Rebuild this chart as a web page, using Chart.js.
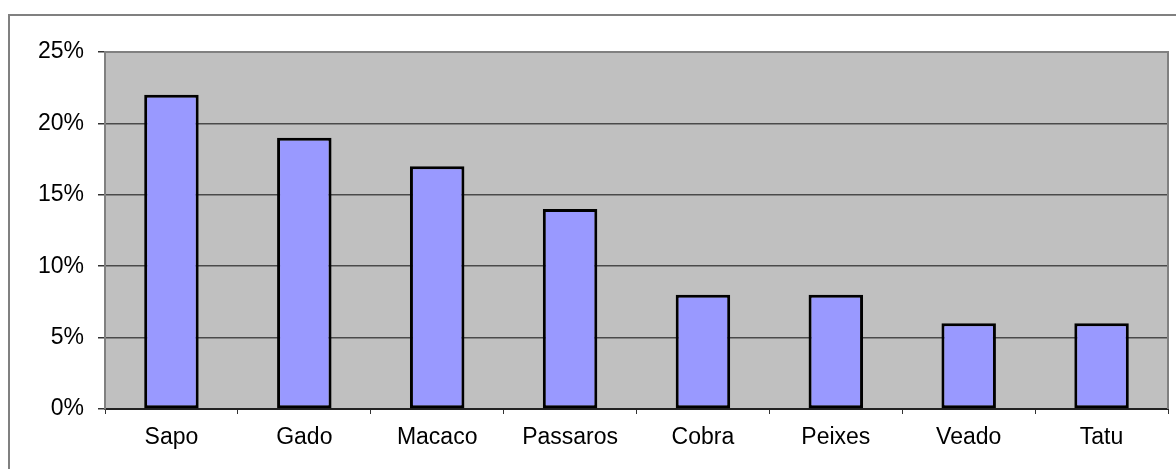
<!DOCTYPE html>
<html>
<head>
<meta charset="utf-8">
<script src="https://cdn.jsdelivr.net/npm/chart.js@4/dist/chart.umd.min.js"></script>
<style>
  html, body { margin: 0; padding: 0; background: #fff; }
  #wrap { position: relative; width: 1176px; height: 469px; overflow: hidden; }
  #frame {
    position: absolute; left: 8px; top: 14px; width: 1200px; height: 500px;
    border: 2px solid #808080; box-sizing: border-box;
  }
  canvas { position: absolute; left: 0; top: 0; }
</style>
</head>
<body>
<div id="wrap">
  <div id="frame"></div>
  <canvas id="chart" width="1176" height="469"></canvas>
</div>
<script>
const categories = ['Sapo', 'Gado', 'Macaco', 'Passaros', 'Cobra', 'Peixes', 'Veado', 'Tatu'];
const shares = [22, 19, 17, 14, 8, 8, 6, 6];

const PLOT_BG = '#c0c0c0';
const BAR_FILL = '#9999ff';
const FRAME_GRAY = '#808080';
const LABEL_FONT = { family: 'Liberation Sans, Arial, sans-serif', size: 23 };

// grey plot panel behind the bars, grey top/right edge on top of everything
const plotPanel = {
  id: 'plotPanel',
  beforeDraw(chart) {
    const { ctx, chartArea: a } = chart;
    ctx.save();
    ctx.fillStyle = PLOT_BG;
    ctx.fillRect(a.left, a.top, a.right - a.left, a.bottom - a.top);
    ctx.restore();
  },
  afterDraw(chart) {
    const { ctx, chartArea: a } = chart;
    ctx.save();
    ctx.strokeStyle = FRAME_GRAY;
    ctx.lineWidth = 2;
    ctx.beginPath();
    ctx.moveTo(a.left, a.top);
    ctx.lineTo(a.right, a.top);
    ctx.lineTo(a.right, a.bottom);
    ctx.stroke();
    ctx.restore();
  },
};

new Chart(document.getElementById('chart'), {
  type: 'bar',
  data: {
    labels: categories,
    datasets: [{
      data: shares,
      backgroundColor: BAR_FILL,
      borderColor: '#000',
      borderWidth: 3,
      borderSkipped: false,
      barPercentage: 0.41,
      categoryPercentage: 1,
    }],
  },
  options: {
    responsive: false,
    animation: false,
    layout: { padding: { left: 0, top: 52, right: 8, bottom: 0 } },
    plugins: { legend: { display: false }, tooltip: { enabled: false } },
    scales: {
      x: {
        afterFit(s) { s.height = 60; },
        grid: {
          offset: true,
          drawOnChartArea: false,
          drawTicks: true,
          tickLength: 5,
          tickColor: '#333',
        },
        border: { color: '#222', width: 2 },
        ticks: {
          color: '#000',
          padding: 10,
          font: LABEL_FONT,
        },
      },
      y: {
        min: 0,
        max: 25,
        afterFit(s) { s.width = 105; },
        grid: {
          color: '#4a4a4a',
          lineWidth: 1.5,
          tickLength: 7,
          tickColor: '#333',
        },
        border: { color: FRAME_GRAY, width: 2 },
        ticks: {
          stepSize: 5,
          color: '#000',
          padding: 14,
          font: LABEL_FONT,
          callback: v => v + '%',
        },
      },
    },
  },
  plugins: [plotPanel],
});
</script>
</body>
</html>
